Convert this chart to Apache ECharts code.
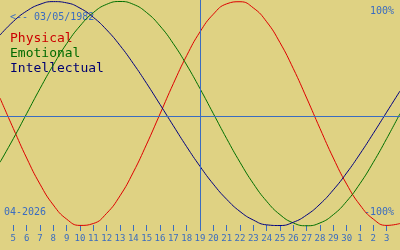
<!DOCTYPE html>
<html>
<head>
<meta charset="utf-8">
<script src="https://cdn.jsdelivr.net/npm/echarts@6/dist/echarts.min.js"></script>
<style>
html,body{margin:0;padding:0;background:#dfd283;}
#c{width:400px;height:250px;}
</style>
</head>
<body>
<div id="c"></div>
<script>
// Day index (April 2026; 31..34 = May 1..4)
var days = [4,5,6,7,8,9,10,11,12,13,14,15,16,17,18,19,20,21,22,23,24,25,26,27,28,29,30,31,32,33,34];
var physical = [0.139,-0.133,-0.396,-0.629,-0.815,-0.941,-0.997,-0.980,-0.889,-0.733,-0.522,-0.272,-0.003,0.267,0.517,0.729,0.887,0.979,0.998,0.943,0.819,0.633,0.401,0.139,-0.133,-0.396,-0.629,-0.815,-0.941,-0.997,-0.980];
var emotional = [-0.434,-0.223,0,0.223,0.434,0.624,0.782,0.901,0.975,1,0.975,0.901,0.782,0.624,0.434,0.223,0,-0.223,-0.434,-0.624,-0.782,-0.901,-0.975,-1,-0.975,-0.901,-0.782,-0.624,-0.434,-0.223,0];
var intellectual = [0.700,0.822,0.915,0.975,0.999,0.988,0.941,0.859,0.747,0.608,0.446,0.269,0.082,-0.108,-0.295,-0.470,-0.629,-0.764,-0.873,-0.949,-0.992,-0.998,-0.969,-0.904,-0.807,-0.680,-0.529,-0.359,-0.176,0.013,0.202];
var tickDays = [5,6,7,8,9,10,11,12,13,14,15,16,17,18,19,20,21,22,23,24,25,26,27,28,29,30,31,32,33];
var tickLabels = ['5','6','7','8','9','10','11','12','13','14','15','16','17','18','19','20','21','22','23','24','25','26','27','28','29','30','1','2','3'];
var todayDay = 19;
var midValue = -0.016;
var seriesNames = ['Physical','Emotional','Intellectual'];
var birthText = '<-- 03/05/1982';
var monthText = '04-2026';

var BLUE = '#3a6cc0';
var MONO = '"DejaVu Sans Mono", monospace';
function pairs(v){ return days.map(function(d,i){ return [d, v[i]]; }); }
function txt(t, x, y, color, size, align){
  return {type:'text', style:{text:t, x:x, y:y, fill:color, font: size+'px '+MONO, textAlign:align||'left', textVerticalAlign:'middle', verticalAlign:'middle'}};
}

var chart = echarts.init(document.getElementById('c'), null, {renderer:'canvas'});
chart.setOption({
  animation:false,
  backgroundColor:'#dfd283',
  grid:{left:0, right:0, top:0, height:231, containLabel:false},
  xAxis:{
    type:'value', min:4, max:34,
    axisLine:{show:false, onZero:false},
    splitLine:{show:false},
    axisTick:{show:true, inside:true, length:6, customValues:tickDays, lineStyle:{color:BLUE, width:1}},
    axisLabel:{show:true, customValues:tickDays, margin:3, color:BLUE, fontSize:9, fontFamily:MONO,
      formatter:function(v){ var i = tickDays.indexOf(v); return i>=0 ? tickLabels[i] : ''; }}
  },
  yAxis:{type:'value', min:-1.0468, max:1.0134, show:false, splitLine:{show:false}},
  series:[
    {name:seriesNames[0], type:'line', data:pairs(physical), smooth:true, symbol:'none', lineStyle:{color:'#dd0000', width:1}, z:3,
      markLine:{silent:true, symbol:'none', label:{show:false}, lineStyle:{color:BLUE, width:1, type:'solid'},
        data:[{xAxis:todayDay},{yAxis:midValue}]}},
    {name:seriesNames[1], type:'line', data:pairs(emotional), smooth:true, symbol:'none', lineStyle:{color:'#007000', width:1}, z:3},
    {name:seriesNames[2], type:'line', data:pairs(intellectual), smooth:true, symbol:'none', lineStyle:{color:'#000080', width:1}, z:3}
  ],
  graphic:[
    txt(birthText, 10, 17, BLUE, 10),
    txt('100%', 394, 11.5, BLUE, 10, 'right'),
    txt(seriesNames[0], 10, 38.5, '#cc0000', 13),
    txt(seriesNames[1], 10, 53.5, '#006a00', 13),
    txt(seriesNames[2], 10, 68.5, '#000070', 13),
    txt(monthText, 4, 212, BLUE, 10),
    txt('-100%', 394, 212, BLUE, 10, 'right')
  ]
});
</script>
</body>
</html>
